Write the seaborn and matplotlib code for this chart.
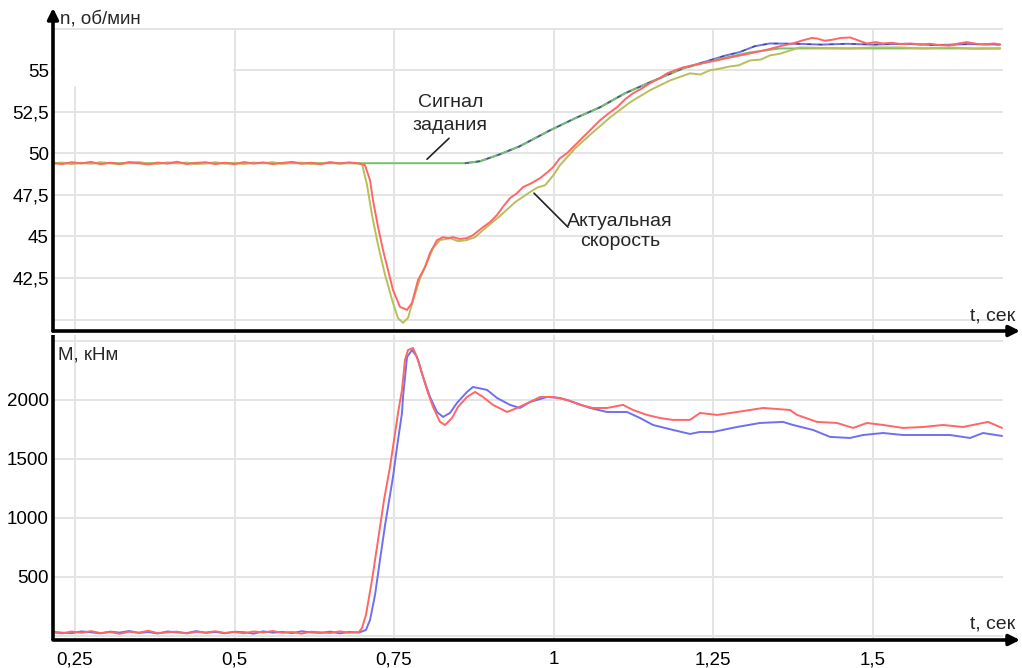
import matplotlib
matplotlib.use("Agg")
import matplotlib.pyplot as plt
import seaborn as sns
from matplotlib.patches import Rectangle
from matplotlib.ticker import FixedLocator

# ---------------- data ----------------
t_pre = [0.215, 0.23, 0.245, 0.26, 0.275, 0.29, 0.305, 0.32, 0.335, 0.35, 0.365,
         0.38, 0.395, 0.41, 0.425, 0.44, 0.455, 0.47, 0.485, 0.50, 0.515, 0.53,
         0.545, 0.56, 0.575, 0.59, 0.605, 0.62, 0.635, 0.65, 0.665, 0.68, 0.695]

# speed reference (Сигнал задания), green
t_ref = [0.215, 0.861, 0.885, 0.916, 0.947, 0.9945, 1.034, 1.073, 1.112, 1.151,
         1.203, 1.256, 1.308, 1.355, 1.378, 1.70]
n_ref = [49.41, 49.41, 49.53, 49.95, 50.43, 51.39, 52.12, 52.78, 53.62, 54.28,
         55.12, 55.66, 56.08, 56.32, 56.32, 56.32]

# second reference, blue
t_ref2 = [0.861, 0.885, 0.916, 0.947, 0.9945, 1.034, 1.073, 1.112, 1.151, 1.203,
          1.24, 1.27, 1.292, 1.315, 1.339, 1.38, 1.42, 1.46, 1.50, 1.55, 1.60,
          1.65, 1.70]
n_ref2 = [49.41, 49.53, 49.95, 50.43, 51.39, 52.12, 52.78, 53.62, 54.28, 55.12,
          55.55, 55.9, 56.1, 56.45, 56.62, 56.6, 56.55, 56.6, 56.55, 56.6, 56.52,
          56.58, 56.55]

# actual speed, red
t_spd1 = t_pre + [0.7045, 0.7124, 0.717, 0.725, 0.7328, 0.7406, 0.7484, 0.7594,
                  0.7704, 0.7782, 0.7876, 0.7986, 0.8064, 0.8174, 0.8268, 0.835,
                  0.8425, 0.853, 0.8644, 0.8738, 0.8895, 0.90, 0.9114, 0.92,
                  0.9318, 0.9425, 0.9522, 0.965, 0.9788, 0.99, 0.9992, 1.010,
                  1.021, 1.034, 1.046, 1.06, 1.073, 1.086, 1.0995, 1.112, 1.1246,
                  1.138, 1.151, 1.165, 1.178, 1.19, 1.203, 1.23, 1.256, 1.28,
                  1.308, 1.335, 1.36, 1.375, 1.39, 1.405, 1.413, 1.425, 1.438,
                  1.45, 1.465, 1.478, 1.491, 1.505, 1.516, 1.53, 1.545, 1.56,
                  1.575, 1.59, 1.605, 1.621, 1.635, 1.648, 1.662, 1.675, 1.69, 1.70]
n_spd1 = [49.42, 49.36, 49.47, 49.40, 49.49, 49.35, 49.44, 49.37, 49.48, 49.41,
          49.34, 49.45, 49.39, 49.50, 49.36, 49.43, 49.47, 49.36, 49.44, 49.35,
          49.48, 49.39, 49.46, 49.36, 49.43, 49.49, 49.38, 49.44, 49.35, 49.47,
          49.40, 49.46, 49.40,
          49.29, 48.39, 47.19, 45.56, 44.18, 42.98, 41.78, 40.76, 40.58, 41.0,
          42.38, 43.16, 44.0, 44.78, 44.96, 44.90, 44.96, 44.85, 44.9, 45.08,
          45.56, 45.85, 46.29, 46.75, 47.31, 47.6, 47.97, 48.2, 48.51, 48.85,
          49.17, 49.71, 50.01, 50.5, 50.97, 51.5, 52.0, 52.4, 52.78, 53.25,
          53.62, 53.9, 54.22, 54.5, 54.82, 55.0, 55.18, 55.4, 55.6, 55.8, 56.02,
          56.25, 56.5, 56.62, 56.80, 56.95, 56.92, 56.78, 56.85, 56.95, 56.98,
          56.80, 56.62, 56.70, 56.62, 56.66, 56.58, 56.62, 56.55, 56.6, 56.52,
          56.5, 56.62, 56.70, 56.6, 56.56, 56.62, 56.56]

# actual speed, olive
t_spd2 = t_pre + [0.70, 0.7077, 0.7155, 0.725, 0.736, 0.747, 0.756, 0.764, 0.772,
                  0.780, 0.791, 0.802, 0.811, 0.822, 0.838, 0.85, 0.864, 0.877,
                  0.893, 0.916, 0.94, 0.963, 0.975, 0.987, 1.00, 1.01, 1.034,
                  1.06, 1.089, 1.12, 1.151, 1.183, 1.214, 1.23, 1.245, 1.26,
                  1.277, 1.29, 1.308, 1.325, 1.339, 1.355, 1.371, 1.386, 1.42,
                  1.465, 1.50, 1.543, 1.58, 1.621, 1.66, 1.70]
n_spd2 = [49.40, 49.45, 49.36, 49.44, 49.38, 49.47, 49.41, 49.35, 49.43, 49.48,
          49.39, 49.37, 49.46, 49.41, 49.45, 49.36, 49.40, 49.47, 49.38, 49.44,
          49.36, 49.45, 49.41, 49.47, 49.37, 49.43, 49.45, 49.36, 49.41, 49.46,
          49.38, 49.43, 49.38,
          49.35, 48.1, 46.29, 44.48, 42.68, 41.18, 40.1, 39.8, 40.1, 41.18, 42.5,
          43.46, 44.3, 44.78, 44.9, 44.72, 44.78, 44.96, 45.5, 46.23, 47.07,
          47.67, 47.95, 48.09, 48.7, 49.29, 50.31, 51.21, 52.18, 53.08, 53.8,
          54.4, 54.82, 54.75, 55.0, 55.1, 55.24, 55.3, 55.6, 55.65, 55.9, 56.0,
          56.2, 56.38, 56.35, 56.32, 56.38, 56.38, 56.32, 56.38, 56.3, 56.32]

# torque, red
t_trq1 = t_pre + [0.6998, 0.706, 0.7155, 0.725, 0.7343, 0.7437, 0.7484, 0.7563,
                  0.7625, 0.7672, 0.7719, 0.7798, 0.7876, 0.7955, 0.8033, 0.8111,
                  0.8221, 0.83, 0.8409, 0.8503, 0.8644, 0.877, 0.8895, 0.9052,
                  0.9271, 0.9428, 0.9632, 0.9788, 0.9992, 1.0212, 1.0415, 1.0619,
                  1.0839, 1.1089, 1.1246, 1.1466, 1.1669, 1.1873, 1.2139, 1.2296,
                  1.2563, 1.2876, 1.3284, 1.3707, 1.3817, 1.413, 1.4444, 1.4694,
                  1.4914, 1.5164, 1.5478, 1.5792, 1.6105, 1.6418, 1.681, 1.703]
m_trq1 = [30, 22, 38, 27, 41, 25, 33, 19, 36, 28, 44, 24, 31, 37, 21, 35, 29, 40,
          26, 33, 23, 38, 30, 42, 27, 34, 20, 36, 31, 25, 39, 28, 33,
          68, 178, 474, 813, 1152, 1431, 1601, 1889, 2084, 2338, 2422, 2439,
          2338, 2194, 2058, 1940, 1813, 1787, 1846, 1940, 2024, 2067, 2024,
          1957, 1897, 1931, 1982, 2024, 2024, 1999, 1957, 1931, 1931, 1957,
          1914, 1872, 1846, 1830, 1830, 1889, 1872, 1897, 1931, 1914, 1872,
          1813, 1804, 1762, 1804, 1787, 1762, 1770, 1787, 1770, 1813, 1762]

# torque, blue
t_trq2 = t_pre + [0.706, 0.7124, 0.7202, 0.728, 0.736, 0.7437, 0.7484, 0.7547,
                  0.7625, 0.7641, 0.7704, 0.7782, 0.786, 0.7955, 0.8064, 0.8174,
                  0.8268, 0.8378, 0.8487, 0.8644, 0.8738, 0.8958, 0.9114, 0.9318,
                  0.9475, 0.9632, 0.9898, 1.0102, 1.0306, 1.0572, 1.0839, 1.1152,
                  1.1356, 1.1559, 1.1873, 1.2139, 1.2296, 1.25, 1.2876, 1.3237,
                  1.3597, 1.3754, 1.4067, 1.4334, 1.4647, 1.4851, 1.5165, 1.5478,
                  1.5792, 1.6215, 1.6528, 1.6732, 1.703]
m_trq2 = [35, 28, 24, 39, 31, 22, 37, 29, 42, 26, 33, 21, 38, 30, 25, 41, 27, 34,
          23, 36, 32, 20, 39, 28, 35, 24, 40, 30, 26, 37, 22, 34, 29,
          51, 136, 347, 644, 940, 1194, 1347, 1601, 1889, 2024, 2363, 2422,
          2363, 2194, 2024, 1897, 1855, 1889, 1974, 2067, 2109, 2084, 2016,
          1957, 1931, 1982, 2024, 2016, 1982, 1931, 1897, 1897, 1846, 1787,
          1745, 1711, 1728, 1728, 1770, 1804, 1813, 1787, 1745, 1686, 1677,
          1702, 1719, 1702, 1702, 1702, 1677, 1719, 1694]

x_ticks = [0.25, 0.5, 0.75, 1.0, 1.25, 1.5]
x_labels = ["0,25", "0,5", "0,75", "1", "1,25", "1,5"]
n_ticks = [40, 42.5, 45, 47.5, 50, 52.5, 55, 57.5]
n_labels = ["", "42,5", "45", "47,5", "50", "52,5", "55", ""]
m_ticks = [0, 500, 1000, 1500, 2000, 2500]
m_labels = ["", "500", "1000", "1500", "2000", ""]

# ---------------- style ----------------
sns.set_theme(style="whitegrid")
plt.rcParams['font.family'] = ['Liberation Sans', 'DejaVu Sans']

W, H = 1022, 668
fig = plt.figure(figsize=(W / 100, H / 100), dpi=100)
fig.patch.set_facecolor("white")
ax1 = fig.add_axes([53 / W, 1 - 331 / H, 950 / W, 303 / H])
ax2 = fig.add_axes([53 / W, 1 - 640 / H, 950 / W, 305 / H])

GREEN = "#72c067"
BLUE = "#6f6ff2"
RED = "#ff6666"
OLIVE = "#b9be5a"

lw = 1.4
sns.lineplot(x=t_ref2, y=n_ref2, ax=ax1, color=BLUE, lw=lw, estimator=None, sort=False, zorder=3)
sns.lineplot(x=t_ref, y=n_ref, ax=ax1, color=GREEN, lw=lw, estimator=None, sort=False, zorder=3)
ax1.plot(t_ref2, n_ref2, color="#3d3d78", lw=1.0, dashes=(3, 5), zorder=3.5, alpha=0.8)
sns.lineplot(x=t_spd2, y=n_spd2, ax=ax1, color=OLIVE, lw=lw, estimator=None, sort=False, zorder=4)
sns.lineplot(x=t_spd1, y=n_spd1, ax=ax1, color=RED, lw=lw, estimator=None, sort=False, zorder=5)

sns.lineplot(x=t_trq1, y=m_trq1, ax=ax2, color=RED, lw=lw, estimator=None, sort=False, zorder=4)
sns.lineplot(x=t_trq2, y=m_trq2, ax=ax2, color=BLUE, lw=lw, estimator=None, sort=False, zorder=3)

xlim = (0.2155, 1.7045)
for ax in (ax1, ax2):
    ax.set_xlim(*xlim)
    ax.set_facecolor("white")
    ax.grid(True, color="#e4e4e4", lw=1.4)
    ax.set_axisbelow(True)
    for s in ax.spines.values():
        s.set_visible(False)
    ax.tick_params(length=0, labelsize=13.5, colors="black", pad=3)
    ax.set_xlabel("")
    ax.set_ylabel("")
    ax.xaxis.set_major_locator(FixedLocator(x_ticks))

ax1.set_ylim(39.31, 57.55)
ax1.set_yticks(n_ticks)
ax1.set_yticklabels(n_labels)
ax1.set_xticklabels([])

ax2.set_ylim(-34, 2549)
ax2.set_yticks(m_ticks)
ax2.set_yticklabels(m_labels)
ax2.set_xticklabels(x_labels)
ax2.tick_params(axis="x", pad=8)

# blank box in the top-left corner
ax1.add_patch(Rectangle((0.002, 0.809), 0.187, 0.186, transform=ax1.transAxes,
                        facecolor="white", edgecolor="none", zorder=1.5))

arrow = dict(arrowstyle="-|>", color="black", lw=2.6, mutation_scale=16,
             shrinkA=0, shrinkB=0)
# top panel axes
ax1.annotate("", xy=(1.0 + 17 / 950, 0), xytext=(0, 0), xycoords="axes fraction",
             textcoords="axes fraction", arrowprops=arrow, annotation_clip=False, zorder=10)
ax1.annotate("", xy=(0, 1.0 + 20 / 303), xytext=(0, 0), xycoords="axes fraction",
             textcoords="axes fraction", arrowprops=arrow, annotation_clip=False, zorder=10)
# bottom panel axes
ax2.annotate("", xy=(1.0 + 17 / 950, 0), xytext=(0, 0), xycoords="axes fraction",
             textcoords="axes fraction", arrowprops=arrow, annotation_clip=False, zorder=10)
ax2.plot([0, 0], [0, 1], transform=ax2.transAxes, color="black", lw=2.6,
         clip_on=False, zorder=10, solid_capstyle="butt")

# axis titles
fig.text(60 / W, 1 - 19 / H, "n, об/мин", fontsize=13.5, va="center", ha="left")
fig.text(58 / W, 1 - 355 / H, "M, кНм", fontsize=13.5, va="center", ha="left")
fig.text(1015 / W, 1 - 316 / H, "t, сек", fontsize=14, va="center", ha="right")
fig.text(1015 / W, 1 - 624 / H, "t, сек", fontsize=14, va="center", ha="right")

# annotations
ax1.text(0.8385, 52.38, "Сигнал\nзадания", fontsize=14, ha="center", va="center",
         linespacing=1.45, zorder=6)
ax1.annotate("", xy=(0.8017, 49.65), xytext=(0.8362, 50.91),
             arrowprops=dict(arrowstyle="-", color="#222222", lw=1.2,
                             shrinkA=0, shrinkB=0), zorder=6)
ax1.text(1.1045, 45.3, "Актуальная\nскорость", fontsize=14, ha="center",
         va="center", linespacing=1.3, zorder=6)
ax1.annotate("", xy=(0.9694, 47.61), xytext=(1.0227, 45.56),
             arrowprops=dict(arrowstyle="-", color="#222222", lw=1.2,
                             shrinkA=0, shrinkB=0), zorder=6)

fig.savefig("out.png", dpi=100, facecolor="white")
